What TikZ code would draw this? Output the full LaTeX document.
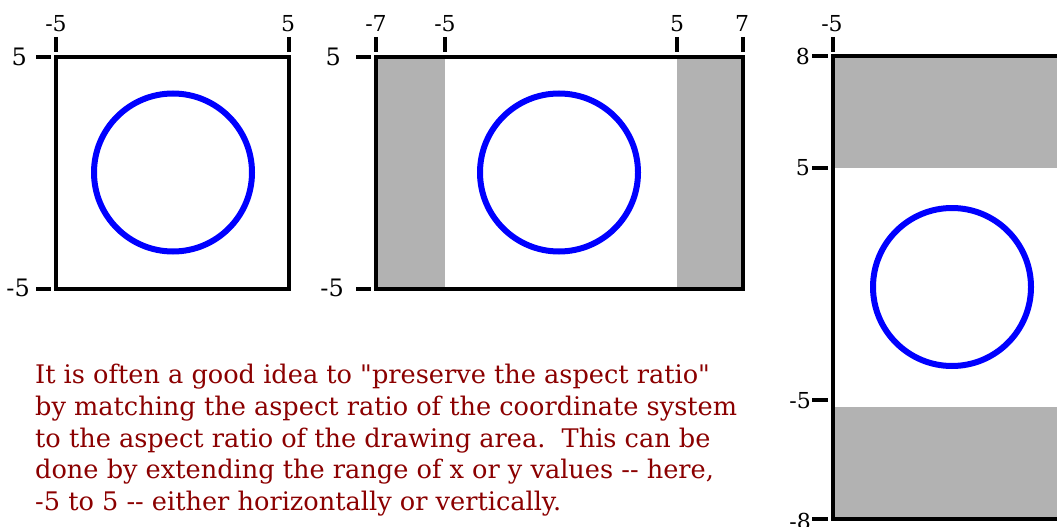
\documentclass[tikz,border=0pt]{standalone}
\usepackage{fontspec}
\setmainfont{DejaVu Serif}[Ligatures=TeXOff]
\definecolor{textred}{HTML}{8B0000}
\begin{document}
\begin{tikzpicture}[x=1pt,y=-1pt,
  frame/.style={line width=4.5pt},
  tickmark/.style={line width=4.5pt},
  ring/.style={draw=blue,line width=6pt},
  shade/.style={fill=black!30},
  lbl/.style={font=\fontsize{22}{26}\selectfont,inner sep=0pt},
  biglbl/.style={font=\fontsize{24}{28}\selectfont,inner sep=0pt},
  midlbl/.style={font=\fontsize{22}{26}\selectfont,inner sep=0pt}]
\useasboundingbox (0,0) rectangle (1057,527);
% ---------- panel 1
\draw[ring] (173,172.5) circle (79);
\draw[frame] (56,57) rectangle (289,289);
\draw[tickmark] (56,37) -- (56,52);
\draw[tickmark] (289,37) -- (289,52);
\draw[tickmark] (36,57) -- (51,57);
\draw[tickmark] (36,289) -- (51,289);
\node[lbl,anchor=base] (p1xa) at (56,32) {-5};
\node[lbl,anchor=base] (p1xb) at (288,32) {5};
\node[biglbl,anchor=east] (p1ya) at (27,57) {5};
\node[biglbl,anchor=east] (p1yb) at (30,288) {-5};
% ---------- panel 2
\fill[shade] (376,57) rectangle (445,289);
\fill[shade] (677,57) rectangle (743,289);
\draw[ring] (559,172.5) circle (79);
\draw[frame] (376,57) rectangle (743,289);
\draw[tickmark] (376,37) -- (376,52);
\draw[tickmark] (445,37) -- (445,52);
\draw[tickmark] (677,37) -- (677,52);
\draw[tickmark] (743,37) -- (743,52);
\draw[tickmark] (356,57) -- (371,57);
\draw[tickmark] (356,289) -- (371,289);
\node[lbl,anchor=base] (p2xa) at (376,32) {-7};
\node[lbl,anchor=base] (p2xb) at (445,32) {-5};
\node[lbl,anchor=base] (p2xc) at (677,32) {5};
\node[lbl,anchor=base] (p2xd) at (742,32) {7};
\node[biglbl,anchor=east] (p2ya) at (341,57) {5};
\node[biglbl,anchor=east] (p2yb) at (344,288) {-5};
% ---------- panel 3
\fill[shade] (833,56) rectangle (1075,168);
\fill[shade] (833,407) rectangle (1075,519);
\draw[ring] (952,287) circle (79);
\draw[frame] (833,56) rectangle (1080,519);
\draw[tickmark] (833,37) -- (833,52);
\draw[tickmark] (812,56) -- (828,56);
\draw[tickmark] (812,168) -- (828,168);
\draw[tickmark] (812,400) -- (828,400);
\draw[tickmark] (812,519) -- (828,519);
\node[lbl,anchor=base] (p3xa) at (832,32) {-5};
\node[midlbl,anchor=east] (p3ya) at (810,56) {8};
\node[midlbl,anchor=east] (p3yb) at (810,168) {5};
\node[midlbl,anchor=east] (p3yc) at (811,401) {-5};
\node[midlbl,anchor=east] (p3yd) at (811,521) {-8};
% ---------- note
\node[anchor=north west,align=left,inner sep=0pt,text=textred,
      font=\fontsize{25.6}{31.7}\selectfont] (note) at (35,364)
 {It is often a good idea to "preserve the aspect ratio"\\
  by matching the aspect ratio of the coordinate system\\
  to the aspect ratio of the drawing area.\ \ This can be\\
  done by extending the range of x or y values -- here,\\
  -5 to 5 -- either horizontally or vertically.};
\end{tikzpicture}
\end{document}
